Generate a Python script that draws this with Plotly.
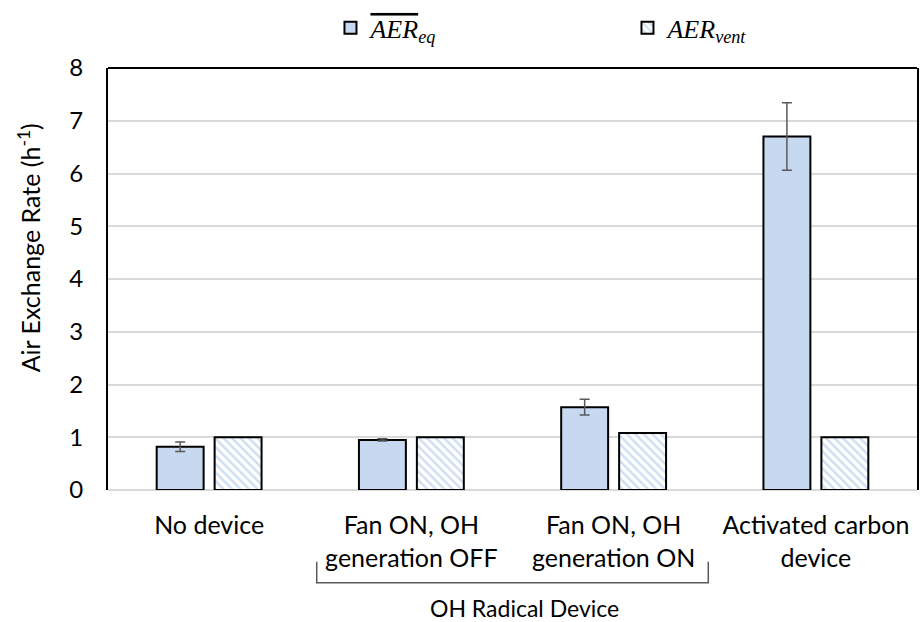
import plotly.graph_objects as go

# Measured air exchange rates per test condition
categories = [
    "No device",
    "Fan ON, OH<br>generation OFF",
    "Fan ON, OH<br>generation ON",
    "Activated carbon<br>device",
]
aer_eq = [0.82, 0.95, 1.57, 6.70]
aer_eq_err = [0.09, 0.02, 0.15, 0.64]
aer_vent = [1.00, 1.00, 1.08, 1.00]
y_ticks = [0, 1, 2, 3, 4, 5, 6, 7, 8]

FILL = "#c6d9f1"
HATCH = "#9dbde6"
TEXT = "#000000"
SANS = "Lato, Open Sans, sans-serif"
SERIF = "Liberation Serif, DejaVu Serif, serif"

fig = go.Figure()

fig.add_trace(go.Bar(
    x=categories,
    y=aer_eq,
    name='<span style="text-decoration:overline"><i>AER</i></span><sub><i>eq</i></sub>',
    marker=dict(color=FILL, line=dict(color="#000000", width=2)),
    error_y=dict(type="data", array=aer_eq_err, visible=True,
                 color="#595959", thickness=1.5, width=5),
))

fig.add_trace(go.Bar(
    x=categories,
    y=aer_vent,
    name="<i>AER</i><sub><i>vent</i></sub>",
    marker=dict(
        color="#ffffff",
        line=dict(color="#000000", width=2),
        pattern=dict(shape="\\", fgcolor=HATCH, bgcolor="#ffffff",
                     size=6, solidity=0.4),
    ),
))

fig.update_layout(
    width=920,
    height=622,
    margin=dict(l=108, r=3, t=68, b=132, autoexpand=False),
    paper_bgcolor="#ffffff",
    plot_bgcolor="#ffffff",
    barmode="group",
    bargap=0.427,
    bargroupgap=0.19,
    font=dict(family=SANS, color=TEXT, size=23),
    legend=dict(
        orientation="h",
        x=0.275, xanchor="left",
        y=1.095, yanchor="middle",
        entrywidth=252, entrywidthmode="pixels",
        font=dict(family=SERIF, size=26, color=TEXT),
        itemwidth=30,
        bgcolor="rgba(0,0,0,0)",
    ),
    xaxis=dict(
        automargin=False,
        showline=False,
        showgrid=False,
        ticks="",
        tickfont=dict(family=SANS, size=25, color=TEXT),
        ticklabelstandoff=18,
    ),
    yaxis=dict(
        automargin=False,
        range=[0, 8],
        tickvals=y_ticks,
        showgrid=True,
        gridcolor="#d9d9d9",
        gridwidth=1.5,
        zeroline=True,
        zerolinecolor="#d9d9d9",
        zerolinewidth=1.5,
        showline=True,
        linecolor="#000000",
        linewidth=2,
        mirror=True,
        ticks="",
        tickfont=dict(family=SANS, size=24, color=TEXT),
        ticklabelstandoff=18,
    ),
    showlegend=True,
)

# Upper frame edge of the plot area
fig.add_shape(type="line", xref="paper", yref="paper",
              x0=0, x1=1, y0=1, y1=1,
              line=dict(color="#000000", width=2))

# Bracket grouping the two OH radical device conditions
bx0, bx1 = 0.258, 0.742
by_bottom, by_top = -0.220, -0.170
fig.add_shape(type="path", xref="paper", yref="paper",
              path=f"M {bx0} {by_top} L {bx0} {by_bottom} L {bx1} {by_bottom} L {bx1} {by_top}",
              line=dict(color="#595959", width=1.5))

fig.add_annotation(
    text="OH Radical Device", xref="paper", yref="paper",
    x=0.515, y=-0.280, showarrow=False,
    font=dict(family=SANS, size=23, color=TEXT),
    xanchor="center", yanchor="middle",
)

# Y-axis title
fig.add_annotation(
    text="Air Exchange Rate (h<sup>-1</sup>)", xref="paper", yref="paper",
    x=-0.0975, y=0.573, textangle=-90, showarrow=False,
    font=dict(family=SANS, size=25, color=TEXT),
    xanchor="center", yanchor="middle",
)

fig.write_html("out.html")
